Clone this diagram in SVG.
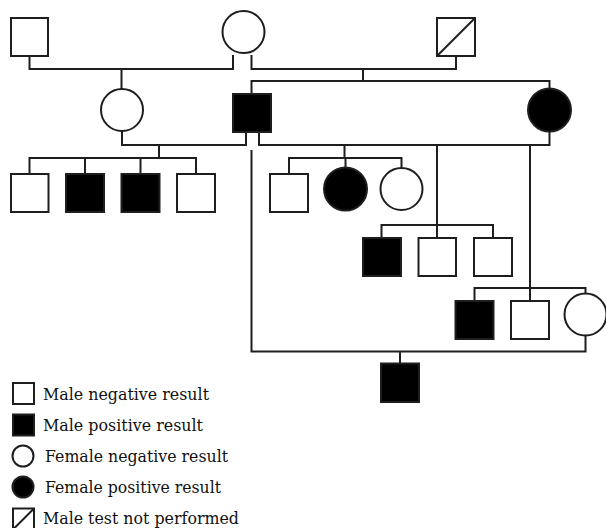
<svg xmlns="http://www.w3.org/2000/svg" width="606" height="528" viewBox="0 0 606 528">
<style>
.ln{fill:none;stroke:#1e1e1e;stroke-width:2}
.m{fill:#fff;stroke:#1e1e1e;stroke-width:2}
.p{fill:#000;stroke:#1e1e1e;stroke-width:2}
.t{font-family:"DejaVu Serif","Liberation Serif",serif;font-size:16px;fill:#111}
</style>
<rect width="606" height="528" fill="#fff"/>
<g id="connectors" class="ln">
<path d="M29.5 56V69H233V55"/>
<path d="M251.5 55V69H456V56"/>
<path d="M121.5 69V89"/>
<path d="M363 69V81"/>
<path d="M251.5 94V81H549.5V88.5"/>
<path d="M122 131V145H246V132"/>
<path d="M259 132V145H549.5V131.5"/>
<path d="M159 145V158"/>
<path d="M29.5 174V158H196V174"/>
<path d="M85 158V174M140.5 158V174"/>
<path d="M344.5 145V158"/>
<path d="M289 174V158H401.5V168"/>
<path d="M345.5 158V167.5"/>
<path d="M437 145V238"/>
<path d="M381.5 238V225H493V238"/>
<path d="M530 145V301"/>
<path d="M474.5 301V288H585.5V293.5"/>
<path d="M251.5 150V351.5H585.5V335.5"/>
<path d="M400 351.5V363.5"/>
</g>
<g id="I1"><rect class="m" x="11" y="18" width="37" height="38"/></g>
<g id="I2"><circle class="m" cx="243.5" cy="32" r="21"/></g>
<g id="I3"><rect class="m" x="437" y="18" width="38" height="38"/><line class="ln" x1="437" y1="56" x2="475" y2="18"/></g>
<g id="II1"><circle class="m" cx="122" cy="110" r="21"/></g>
<g id="II2"><rect class="p" x="233" y="94" width="38" height="38"/></g>
<g id="II3"><circle class="p" cx="549.5" cy="110" r="21.5"/></g>
<g id="III1"><rect class="m" x="11" y="174" width="37.5" height="38"/></g>
<g id="III2"><rect class="p" x="66" y="174" width="38" height="38"/></g>
<g id="III3"><rect class="p" x="121.5" y="174" width="38" height="38"/></g>
<g id="III4"><rect class="m" x="177" y="174" width="38" height="38"/></g>
<g id="III5"><rect class="m" x="270" y="174" width="38" height="38"/></g>
<g id="III6"><circle class="p" cx="345.5" cy="189" r="21.5"/></g>
<g id="III7"><circle class="m" cx="401.5" cy="189" r="21"/></g>
<g id="III8"><rect class="p" x="363" y="238" width="38" height="38"/></g>
<g id="III9"><rect class="m" x="418.5" y="238" width="37.5" height="38"/></g>
<g id="III10"><rect class="m" x="474" y="238" width="38" height="38"/></g>
<g id="III11"><rect class="p" x="455.5" y="301" width="38" height="38"/></g>
<g id="III12"><rect class="m" x="511" y="301" width="38" height="38"/></g>
<g id="III13"><circle class="m" cx="585.5" cy="314.5" r="21"/></g>
<g id="III14"><rect class="p" x="381" y="363.5" width="38" height="38.5"/></g>
<g id="legend">
<rect class="m" x="13" y="383" width="21" height="21" stroke-width="1.6"/>
<text class="t" x="43" y="400" textLength="166" lengthAdjust="spacingAndGlyphs">Male negative result</text>
<rect class="p" x="13" y="414.5" width="21" height="21" stroke-width="1.6"/>
<text class="t" x="43" y="431" textLength="160" lengthAdjust="spacingAndGlyphs">Male positive result</text>
<circle class="m" cx="23" cy="456" r="10.5" stroke-width="1.6"/>
<text class="t" x="45" y="462" textLength="183" lengthAdjust="spacingAndGlyphs">Female negative result</text>
<circle class="p" cx="23" cy="487" r="10.5" stroke-width="1.6"/>
<text class="t" x="45" y="493" textLength="176" lengthAdjust="spacingAndGlyphs">Female positive result</text>
<rect class="m" x="13" y="508.5" width="21" height="21" stroke-width="1.6"/>
<line class="ln" x1="13" y1="529.5" x2="34" y2="508.5" stroke-width="1.6"/>
<text class="t" x="43" y="524" textLength="196" lengthAdjust="spacingAndGlyphs">Male test not performed</text>
</g>
</svg>
